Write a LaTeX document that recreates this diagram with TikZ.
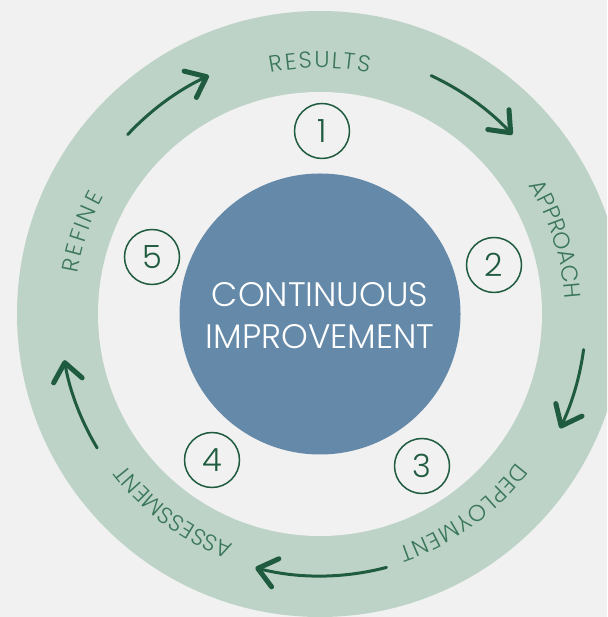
\documentclass[tikz,border=0pt]{standalone}
\usepackage{fontspec}
\setmainfont{Poppins}[UprightFont=* Light]
\usetikzlibrary{arrows.meta,decorations.text}
\definecolor{bgc}{HTML}{F1F1F1}
\definecolor{ringc}{HTML}{BED3C7}
\definecolor{corec}{HTML}{658AA9}
\definecolor{dkgreen}{HTML}{1F5B3F}
\definecolor{ringtxt}{HTML}{3A775A}
\newcommand{\rlfont}{\fontsize{23}{23}\selectfont}
\newcommand{\nbfont}{\fontsize{32}{32}\selectfont}
\newcommand{\ctfont}{\fontsize{34}{34}\selectfont}
\tikzset{
  numcirc/.style={circle, draw=dkgreen, line width=1.5pt, minimum size=55pt, inner sep=0pt, font=\nbfont, text=dkgreen},
  coretext/.style={anchor=base, text=white, font=\ctfont, inner sep=0pt},
  flow/.style={draw=dkgreen, line width=3pt, line cap=round,
    -{Straight Barb[length=18pt, width=29pt, line width=5pt, round]}},
  ringlabel/.style={decorate, decoration={text effects along path, text={#1},
    text effects/.cd, text along path, fit text to path,
    characters={text=ringtxt, font=\rlfont}}}
}
\begin{document}
\begin{tikzpicture}[x=1pt,y=1pt]
\useasboundingbox (0,0) rectangle (607,617);
\fill[bgc] (0,0) rectangle (607,617);
\coordinate (C) at (320,303);
\begin{scope}
\clip (0,0) rectangle (607,617);
\fill[ringc] (C) circle[radius=303];
\fill[bgc] (C) circle[radius=222];
\end{scope}
\node[circle, fill=corec, minimum size=281pt, inner sep=0pt] (core) at (C) {};
\node[coretext] (t1) at (320,310) {CONTINUOUS};
\node[coretext] (t2) at (320,268) {IMPROVEMENT};
% numbers
\node[numcirc] (n1) at (322,486) {1};
\node[numcirc] (n2) at (494,352) {2};
\node[numcirc] (n3) at (422,151) {3};
\node[numcirc] (n4) at (212,157) {4};
\node[numcirc] (n5) at (152,360) {5};
% ring labels
\path[ringlabel=RESULTS] (C) ++(101.5:246) arc[start angle=101.5, end angle=78.5, radius=246];
\path[ringlabel=APPROACH] (C) ++(31.5:245) arc[start angle=31.5, end angle=3.5, radius=245];
\path[ringlabel=DEPLOYMENT] (C) ++(-37:246) arc[start angle=-37, end angle=-71.5, radius=246];
\path[ringlabel=ASSESSMENT] (C) ++(-110.5:246) arc[start angle=-110.5, end angle=-142.5, radius=246];
\path[ringlabel=REFINE] (C) ++(170.5:246) arc[start angle=170.5, end angle=151.5, radius=246];
% arrows
\draw[flow] (C) ++(137:263) arc[start angle=137, end angle=115, radius=263];
\draw[flow] (C) ++(65:263) arc[start angle=65, end angle=43, radius=263];
\draw[flow] (C) ++(-7.7:266) arc[start angle=-7.7, end angle=-25.6, radius=264];
\draw[flow] (C) ++(-75.3:262) arc[start angle=-75.3, end angle=-104.4, radius=261];
\draw[flow] (C) ++(211:260) arc[start angle=211, end angle=190, radius=257];
\end{tikzpicture}
\end{document}
